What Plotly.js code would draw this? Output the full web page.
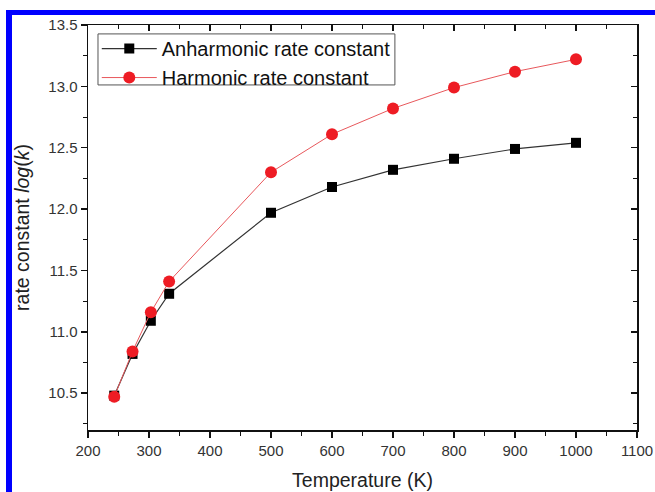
<!DOCTYPE html>
<html>
<head>
<meta charset="utf-8">
<script src="https://cdn.plot.ly/plotly-3.0.1.min.js"></script>
<style>
  html, body { margin: 0; padding: 0; background: #fff; }
  #wrap { position: relative; width: 655px; height: 492px; overflow: hidden; }
  #chart { position: absolute; left: 0; top: 0; width: 655px; height: 492px; }
  #frame { position: absolute; left: 6px; top: 10px; width: 660px; height: 500px;
           border-left: 6px solid #0000ff; border-top: 5px solid #0000ff; pointer-events: none; }
</style>
</head>
<body>
<div id="wrap">
  <div id="chart"></div>
  <div id="frame"></div>
</div>
<script>
const temperature = [243, 273, 303, 333, 500, 600, 700, 800, 900, 1000];
const anharmonic  = [10.48, 10.82, 11.09, 11.31, 11.97, 12.18, 12.32, 12.41, 12.49, 12.54];
const harmonic    = [10.47, 10.84, 11.16, 11.41, 12.30, 12.61, 12.82, 12.99, 13.12, 13.22];
const seriesNames = ['Anharmonic rate constant', 'Harmonic rate constant'];

const xRange = [200, 1100];
const yRange = [10.2, 13.5];

const traces = [
  {
    x: temperature, y: anharmonic, name: seriesNames[0],
    mode: 'lines+markers', type: 'scatter',
    line: {color: '#333333', width: 1.2},
    marker: {symbol: 'square', size: 10, color: '#000000'}
  },
  {
    x: temperature, y: harmonic, name: seriesNames[1],
    mode: 'lines+markers', type: 'scatter',
    line: {color: '#e8585c', width: 1},
    marker: {symbol: 'circle', size: 12, color: '#ee1c24'}
  },
  {
    x: [], y: [], xaxis: 'x2', yaxis: 'y2', showlegend: false,
    hoverinfo: 'skip', type: 'scatter', mode: 'markers'
  }
];

const axisFont = {family: 'Liberation Sans, Arial, sans-serif', size: 15, color: '#333333'};
const titleFont = {family: 'Liberation Sans, Arial, sans-serif', size: 19.5, color: '#222222'};

const layout = {
  width: 655, height: 492,
  margin: {l: 88, r: 18, t: 25, b: 62},
  paper_bgcolor: '#ffffff', plot_bgcolor: '#ffffff',
  showlegend: true,
  legend: {
    x: 0.016, y: 0.99, xanchor: 'left', yanchor: 'top',
    bgcolor: 'rgba(0,0,0,0)', borderwidth: 0,
    font: {family: 'Liberation Sans, Arial, sans-serif', size: 20, color: '#111111'},
    tracegroupgap: 0, itemwidth: 55
  },
  shapes: [
    {type: 'rect', xref: 'paper', yref: 'paper', x0: 0.0182, x1: 0.559, y0: 0.852, y1: 0.978,
     line: {color: '#555555', width: 1}, fillcolor: '#ffffff', layer: 'above'}
  ],
  xaxis: {
    range: xRange, dtick: 100, tick0: 200,
    showgrid: false, zeroline: false,
    showline: true, linecolor: '#111111', linewidth: 1.5,
    ticks: 'outside', ticklen: 6, tickwidth: 1.5, tickcolor: '#111111',
    minor: {dtick: 50, ticks: 'outside', ticklen: 4, tickwidth: 1, tickcolor: '#111111'},
    tickfont: axisFont,
    title: {text: 'Temperature (K)', font: titleFont, standoff: 16}
  },
  yaxis: {
    range: yRange, dtick: 0.5, tick0: 10.5, tickformat: '.1f',
    showgrid: false, zeroline: false,
    showline: true, linecolor: '#111111', linewidth: 1.5,
    ticks: 'outside', ticklen: 6, tickwidth: 1.5, tickcolor: '#111111',
    minor: {dtick: 0.25, ticks: 'outside', ticklen: 4, tickwidth: 1, tickcolor: '#111111'},
    tickfont: axisFont,
    title: {text: 'rate constant <i>log</i>(<i>k</i>)', font: titleFont, standoff: 13}
  },
  xaxis2: {
    overlaying: 'x', side: 'top', range: xRange, dtick: 100, tick0: 200,
    showgrid: false, zeroline: false, showticklabels: false,
    showline: true, linecolor: '#111111', linewidth: 1.5,
    ticks: 'inside', ticklen: 6, tickwidth: 1.5, tickcolor: '#111111',
    minor: {dtick: 50, ticks: 'inside', ticklen: 4, tickwidth: 1, tickcolor: '#111111'}
  },
  yaxis2: {
    overlaying: 'y', side: 'right', range: yRange, dtick: 0.5, tick0: 10.5,
    showgrid: false, zeroline: false, showticklabels: false,
    showline: true, linecolor: '#111111', linewidth: 1.5,
    ticks: 'inside', ticklen: 6, tickwidth: 1.5, tickcolor: '#111111',
    minor: {dtick: 0.25, ticks: 'inside', ticklen: 4, tickwidth: 1, tickcolor: '#111111'}
  }
};

Plotly.newPlot('chart', traces, layout, {displayModeBar: false, staticPlot: true});
</script>
</body>
</html>
